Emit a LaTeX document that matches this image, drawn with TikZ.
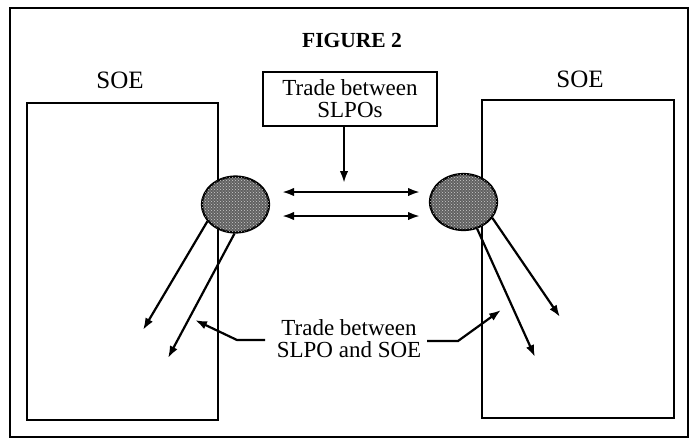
\documentclass[tikz,border=0pt]{standalone}
\usepackage{fontspec}
\setmainfont{Liberation Serif}
\usetikzlibrary{arrows.meta,shapes.geometric,patterns}

\tikzset{
  frameline/.style={line width=2.8pt},
  soebox/.style={draw, line width=2.2pt, rectangle, inner sep=0pt},
  slpo/.style={draw, line width=2.2pt, ellipse, fill=black!62,
               postaction={pattern=crosshatch dots, pattern color=white!80!black},
               inner sep=0pt, minimum width=67pt, minimum height=56pt},
  tradearrow/.style={line width=2.2pt, -{Latex[length=12pt,width=8.5pt]}},
  twoway/.style={line width=2.2pt, {Latex[length=12pt,width=8.5pt]}-{Latex[length=12pt,width=8.5pt]}},
  lbl/.style={font=\fontsize{23}{22}\selectfont, align=center, inner sep=0pt},
  soelbl/.style={font=\fontsize{25}{25}\selectfont, inner sep=0pt},
}

\begin{document}
\begin{tikzpicture}[x=1pt, y=-1pt]
  \useasboundingbox (0,0) rectangle (695,440);

  % outer frame
  \draw[frameline] (10,8) rectangle (688,437);

  % title
  \node[font=\fontsize{21.5}{21.5}\selectfont\bfseries, inner sep=0pt] (title) at (352,40) {FIGURE 2};

  % the two enterprises
  \node[soebox, minimum width=191pt, minimum height=317pt] (soeL) at (122.5,261.5) {};
  \node[soebox, minimum width=192pt, minimum height=318pt] (soeR) at (578,259) {};
  \node[soelbl] (soeLlbl) at (120,80) {SOE};
  \node[soelbl] (soeRlbl) at (580,79) {SOE};

  % box for trade between the SLPOs
  \node[draw, line width=2pt, minimum width=174pt, minimum height=54pt, lbl] (tbox) at (350,98.5)
    {Trade between\\SLPOs};

  % the SLPOs
  \node[slpo] (slpoL) at (235.5,204.5) {};
  \node[slpo] (slpoR) at (463.5,202) {};

  % trade between the SLPOs
  \coordinate (down) at (344,183);
  \draw[tradearrow] (tbox.south -| down) -- (down);
  \coordinate (uL) at (282,192);
  \coordinate (uR) at (420,192);
  \coordinate (dL) at (282,216);
  \coordinate (dR) at (420,216);
  \draw[twoway] (uL) -- (uR);
  \draw[twoway] (dL) -- (dR);

  % trade between SLPO and SOE
  \coordinate (tipL1) at (143,330);
  \coordinate (tipL2) at (168,358);
  \coordinate (tipR1) at (535,357);
  \coordinate (tipR2) at (560,317);
  \draw[tradearrow] (slpoL.211) -- (tipL1);
  \draw[tradearrow] (slpoL.268) -- (tipL2);
  \draw[tradearrow] (slpoR.297) -- (tipR1);
  \draw[tradearrow] (slpoR.331) -- (tipR2);

  % label with its two pointers
  \node[lbl] (tlbl) at (349,339) {Trade between\\SLPO and SOE};
  \coordinate (cl) at (265,340);
  \coordinate (bendL) at (237,340);
  \coordinate (ptL) at (195,320);
  \coordinate (cr) at (427,341);
  \coordinate (bendR) at (458,341);
  \coordinate (ptR) at (501,310);
  \draw[tradearrow] (cl) -- (bendL) -- (ptL);
  \draw[tradearrow] (cr) -- (bendR) -- (ptR);
\end{tikzpicture}
\end{document}
